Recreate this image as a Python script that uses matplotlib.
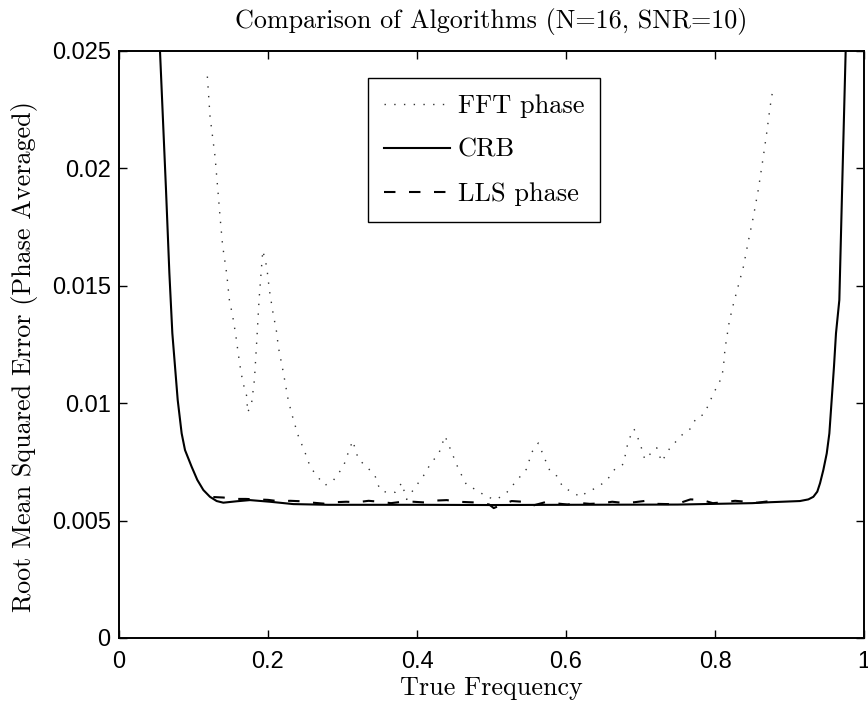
import matplotlib
matplotlib.use("Agg")
import matplotlib.pyplot as plt
from matplotlib.ticker import FixedLocator, FixedFormatter

# ---- data ----
crb_f = [0.047, 0.055, 0.0631, 0.0676, 0.0716, 0.0752, 0.0788, 0.0841, 0.0886, 0.0975,
         0.1051, 0.1132, 0.1221, 0.1311, 0.140, 0.158, 0.1758, 0.2027, 0.234, 0.28,
         0.40, 0.50, 0.60, 0.75, 0.85, 0.874, 0.914, 0.9253, 0.932, 0.9373,
         0.941, 0.9454, 0.950, 0.9535, 0.9566, 0.9597, 0.9624, 0.9669, 0.9711, 0.9754,
         0.982]
crb_v = [0.032, 0.025, 0.01907, 0.01554, 0.01297, 0.01155, 0.01013, 0.00871, 0.00800, 0.00729,
         0.00673, 0.00630, 0.00601, 0.00583, 0.00576, 0.00582, 0.00587, 0.00580, 0.00570, 0.00567,
         0.00567, 0.00566, 0.00567, 0.00568, 0.00574, 0.00578, 0.00583, 0.00590, 0.00601, 0.00623,
         0.00659, 0.00715, 0.00786, 0.00871, 0.01013, 0.01155, 0.01297, 0.01439, 0.01970, 0.02500,
         0.032]

fft_f = [0.1186, 0.1222, 0.1289, 0.1334, 0.1357, 0.1391, 0.1446, 0.1481, 0.1526, 0.1567,
         0.1601, 0.1638, 0.1670, 0.1714, 0.1727, 0.1780, 0.1818, 0.1850, 0.1880, 0.1930,
         0.1983, 0.2019, 0.2064, 0.2117, 0.2138, 0.2206, 0.2273, 0.2340, 0.2407, 0.2497,
         0.2565, 0.2654, 0.2766, 0.2875, 0.3012, 0.3078, 0.3137, 0.3214, 0.3323, 0.3437,
         0.3503, 0.3592, 0.3705, 0.3795, 0.3861, 0.3971, 0.4086, 0.4197, 0.4287, 0.4376,
         0.4466, 0.4556, 0.4668, 0.4802, 0.4937, 0.5070, 0.5206, 0.5338, 0.5473, 0.5539,
         0.5629, 0.5719, 0.5786, 0.5875, 0.5963, 0.6099, 0.6188, 0.6278, 0.6410, 0.6546,
         0.6658, 0.6770, 0.6837, 0.6913, 0.6993, 0.7058, 0.7151, 0.7218, 0.7284, 0.7397,
         0.7487, 0.7574, 0.7666, 0.7755, 0.7843, 0.7910, 0.7977, 0.8044, 0.8090, 0.8112,
         0.8134, 0.8193, 0.8246, 0.8313, 0.8381, 0.8448, 0.8513, 0.8582, 0.8649, 0.8694,
         0.8739, 0.8784]
fft_v = [0.0239, 0.0222, 0.0205, 0.0188, 0.0179, 0.0167, 0.0155, 0.0144, 0.0137, 0.0129,
         0.0121, 0.0113, 0.0108, 0.0103, 0.0096, 0.0100, 0.0110, 0.0127, 0.0144, 0.0165,
         0.0158, 0.0148, 0.0139, 0.0130, 0.0124, 0.0113, 0.0101, 0.0093, 0.0086, 0.0079,
         0.0073, 0.0069, 0.0065, 0.0067, 0.0073, 0.0079, 0.0084, 0.0076, 0.0073, 0.0069,
         0.0063, 0.0062, 0.0062, 0.0066, 0.0059, 0.0064, 0.0069, 0.0075, 0.0078, 0.0086,
         0.0079, 0.0072, 0.0065, 0.0063, 0.0060, 0.0059, 0.0062, 0.0067, 0.0072, 0.0079,
         0.0083, 0.0076, 0.0071, 0.0069, 0.0064, 0.0062, 0.0060, 0.0062, 0.0064, 0.0067,
         0.0072, 0.0074, 0.0084, 0.0089, 0.0083, 0.0076, 0.0079, 0.0081, 0.0075, 0.0081,
         0.0084, 0.0087, 0.0089, 0.0094, 0.0095, 0.0099, 0.0104, 0.0108, 0.0111, 0.0115,
         0.0123, 0.0135, 0.0142, 0.0150, 0.0158, 0.0169, 0.0179, 0.0191, 0.0205, 0.0215,
         0.0226, 0.0235]

lls_f = [0.1266, 0.140, 0.155, 0.170, 0.185, 0.200, 0.215, 0.230, 0.245, 0.260,
         0.275, 0.290, 0.305, 0.320, 0.335, 0.350, 0.365, 0.380, 0.395, 0.410,
         0.425, 0.440, 0.455, 0.470, 0.485, 0.497, 0.503, 0.512, 0.527, 0.542,
         0.557, 0.572, 0.587, 0.602, 0.617, 0.632, 0.647, 0.662, 0.677, 0.692,
         0.707, 0.722, 0.737, 0.752, 0.767, 0.782, 0.797, 0.812, 0.827, 0.842,
         0.857, 0.872]
lls_v = [0.00600, 0.00598, 0.00592, 0.00592, 0.00590, 0.00588, 0.00582, 0.00584, 0.00582, 0.00576,
         0.00572, 0.00578, 0.00580, 0.00578, 0.00584, 0.00580, 0.00574, 0.00580, 0.00580, 0.00577,
         0.00585, 0.00587, 0.00580, 0.00578, 0.00576, 0.00568, 0.00553, 0.00565, 0.00583, 0.00580,
         0.00565, 0.00578, 0.00573, 0.00568, 0.00575, 0.00571, 0.00573, 0.00580, 0.00575, 0.00578,
         0.00584, 0.00571, 0.00570, 0.00574, 0.00590, 0.00588, 0.00574, 0.00578, 0.00584, 0.00580,
         0.00576, 0.00582]

x_ticks = [0, 0.2, 0.4, 0.6, 0.8, 1]
x_tick_labels = ["0", "0.2", "0.4", "0.6", "0.8", "1"]
y_ticks = [0, 0.005, 0.01, 0.015, 0.02, 0.025]
y_tick_labels = ["0", "0.005", "0.01", "0.015", "0.02", "0.025"]

title = "Comparison of Algorithms (N=16, SNR=10)"
xlabel = "True Frequency"
ylabel = "Root Mean Squared Error (Phase Averaged)"
series_labels = ["FFT phase", "CRB", "LLS phase"]

# ---- figure ----
serif = "cmr10"
fs = 18.8
fig = plt.figure(figsize=(8.68, 7.04), dpi=100)
ax = fig.add_axes([119 / 868, (704 - 638) / 704, 745 / 868, (638 - 50.7) / 704])

ax.plot(fft_f, fft_v, color="#333333", linewidth=1.0, linestyle=(0, (1, 6)),
        label=series_labels[0])
ax.plot(crb_f, crb_v, color="black", linewidth=1.5, linestyle="-", label=series_labels[1])
ax.plot(lls_f, lls_v, color="black", linewidth=1.5, linestyle=(0, (5.5, 6.5)),
        label=series_labels[2])

ax.set_xlim(0, 1)
ax.set_ylim(0, 0.025)
ax.xaxis.set_major_locator(FixedLocator(x_ticks))
ax.xaxis.set_major_formatter(FixedFormatter(x_tick_labels))
ax.yaxis.set_major_locator(FixedLocator(y_ticks))
ax.yaxis.set_major_formatter(FixedFormatter(y_tick_labels))

ax.tick_params(axis="both", which="major", direction="in", length=6, width=1.0,
               top=True, right=True, labelsize=17)
ax.tick_params(axis="x", pad=9)
ax.tick_params(axis="y", pad=6)
for lab in ax.get_xticklabels() + ax.get_yticklabels():
    lab.set_fontfamily("Liberation Sans")
for sp in ax.spines.values():
    sp.set_linewidth(1.4)

ax.set_title(title, fontfamily=serif, fontsize=fs, pad=16)
ax.set_xlabel(xlabel, fontfamily=serif, fontsize=fs, labelpad=3)
ax.set_ylabel(ylabel, fontfamily=serif, fontsize=fs)
ax.yaxis.set_label_coords(-0.1087, 0.48)

leg = ax.legend(loc="upper left", bbox_to_anchor=(0.334, 0.9535), fancybox=False,
                framealpha=1, edgecolor="black", handlelength=2.5, handletextpad=0.3,
                labelspacing=0.77, borderpad=0.61, borderaxespad=0,
                prop={"family": serif, "size": 19})
leg.get_frame().set_linewidth(1.0)

fig.savefig("out.png", dpi=100)
